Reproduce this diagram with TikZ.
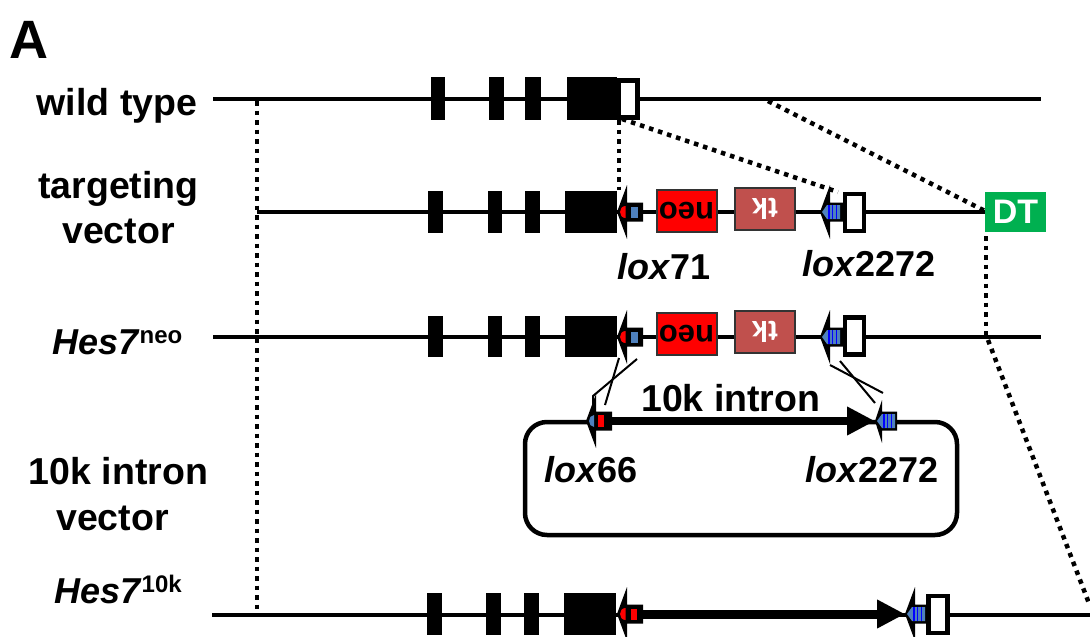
\documentclass[tikz,border=0pt]{standalone}
\usepackage{fontspec}
\setmainfont{Liberation Sans}
\usetikzlibrary{arrows.meta, positioning, calc}
\definecolor{loxblue}{RGB}{79,129,189}
\definecolor{tkred}{RGB}{192,80,77}
\definecolor{dtgreen}{RGB}{0,176,80}
\newcommand{\supmark}[1]{\raisebox{11pt}{\fontsize{24}{24}\selectfont #1}}
\begin{document}
\begin{tikzpicture}[x=1pt, y=-1pt, >=Stealth,
	gene/.style={line width=4.5pt},
	dots/.style={line width=4.5pt, dash pattern=on 4.5pt off 5pt},
	cross/.style={line width=2pt},
	tag/.style={font=\fontsize{37.5}{37.5}\selectfont\bfseries, anchor=base},
	loxtag/.style={font=\fontsize{36}{36}\selectfont\bfseries, anchor=base west, inner sep=0pt},
	exon/.style={draw=black, line width=4.5pt, fill=white, inner sep=0pt, minimum width=19pt},
	cassette/.style={draw=black!80, line width=2pt, inner sep=0pt, minimum width=60pt, rotate=180},
	loxsite/.pic={
		\fill[black] (0,0) -- (10,-27) -- (10,-9.5) -- (26,-9.5) -- (26,9.5) -- (10,9.5) -- (10,27) -- cycle;
		\coordinate (-tip) at (0,0);
		\coordinate (-tail) at (26,0);
	},
	loxshort/.pic={
		\fill[black] (0,0) -- (7,-21) -- (7,-9.5) -- (22,-9.5) -- (22,9.5) -- (7,9.5) -- (7,22) -- cycle;
		\coordinate (-tip) at (0,0);
	},
	redcore/.pic={
		\fill[red] (8.5,-6) -- (8.5,6) .. controls (5,6) and (3,3) .. (3,0) .. controls (3,-3) and (5,-6) .. (8.5,-6);
	},
	stripecore/.pic={
		\fill[loxblue] (2,0) -- (7,-7) -- (20,-7) -- (20,7) -- (7,7) -- cycle;
		\foreach \s in {9,12.7,16.5} {
			\fill[blue] (\s-0.7,-7) rectangle (\s+0.7,7);
		}
	}
	]

	% Frame of the reference
	\useasboundingbox (0,0) rectangle (1090,637);
	\node[font=\fontsize{54}{54}\selectfont\bfseries, anchor=base west, inner sep=0pt] (panel) at (9,58) {A};

	% Dotted guides
	\draw[dots] (257,101) -- (257,614);
	\draw[dots] (619,120) -- (619,190);
	\draw[dots] (622,119) -- (838,192);
	\draw[dots] (768,101) -- (985,211);
	\draw[dots] (986,236) -- (986,336);
	\draw[dots] (988,340) -- (1090,606);

	% 1. wild type
	\coordinate (wtL) at (213,99);
	\coordinate (wtR) at (1041,99);
	\draw[gene] (wtL) -- (wtR);
	\foreach \a/\b in {431/445,489/504,525/541,567/617} {
		\fill (\a,77) rectangle (\b,120);
	}
	\node[exon, minimum height=37pt] (wtEnd) at (628,99) {};
	\node[tag] (wtName) at (117,115) {wild type};

	% 2. targeting vector
	\coordinate (tvL) at (257,212);
	\node[draw=dtgreen, fill=dtgreen, inner sep=0pt, minimum width=60pt, minimum height=39pt, text=white, font=\fontsize{34}{34}\selectfont\bfseries] (tvDT) at (1015.5,212) {DT};
	\draw[gene] (tvL) -- (tvDT);
	\foreach \a/\b in {428/443,488/502,525/540,565/617} {
		\fill (\a,191) rectangle (\b,233);
	}
	\pic (tvLoxA) at (617,212) {loxsite};
	\pic at (617,212) {redcore};
	\fill[loxblue] (631,207) rectangle (638,218);
	\node[cassette, fill=red, minimum height=42pt, font=\fontsize{31}{31}\selectfont\bfseries] (tvNeo) at (686.5,210.5) {neo};
	\node[cassette, fill=tkred, minimum height=42pt, text=white, font=\fontsize{29}{29}\selectfont\bfseries] (tvTk) at (765,209) {tk};
	\pic (tvLoxB) at (820,212) {loxsite};
	\pic at (820,212) {stripecore};
	\node[exon, minimum height=37pt] (tvEnd) at (854.5,212.5) {};
	\node[tag] (tvNameA) at (118.5,198) {targeting};
	\node[tag] (tvNameB) at (118.5,243) {vector};
	\node[loxtag] (tvLabelA) at (617,279) {\textit{lox}71};
	\node[loxtag] (tvLabelB) at (802,276) {\textit{lox}2272};

	% 3. Hes7 neo
	\coordinate (neoL) at (213,337);
	\coordinate (neoR) at (1041,337);
	\draw[gene] (neoL) -- (neoR);
	\foreach \a/\b in {428/443,488/502,525/540,565/617} {
		\fill (\a,316) rectangle (\b,357);
	}
	\pic (neoLoxA) at (617,337) {loxsite};
	\pic at (617,337) {redcore};
	\fill[loxblue] (631,332) rectangle (638,343);
	\node[cassette, fill=red, minimum height=42pt, font=\fontsize{31}{31}\selectfont\bfseries] (neoNeo) at (686.5,334) {neo};
	\node[cassette, fill=tkred, minimum height=42pt, text=white, font=\fontsize{29}{29}\selectfont\bfseries] (neoTk) at (765,332) {tk};
	\pic (neoLoxB) at (820,337) {loxsite};
	\pic at (820,337) {stripecore};
	\node[exon, minimum height=37pt] (neoEnd) at (854.5,336) {};
	\node[loxtag] (neoName) at (52,354) {\textit{Hes7}\supmark{neo}};

	% 4. 10k intron vector
	\draw[line width=4.5pt, rounded corners=22pt] (525,422) rectangle (957,535);
	\pic (vecLoxA) at (586,421) {loxsite};
	\fill[loxblue] (594,415) -- (594,427) .. controls (591,427) and (589,424) .. (589,421) .. controls (589,418) and (591,415) .. (594,415);
	\fill[red] (598,415) rectangle (604,427);
	\pic (vecLoxB) at (875,421) {loxshort};
	\pic at (875,421) {stripecore};
	\draw[line width=8pt, -{Triangle[length=28pt,width=27pt]}] (vecLoxA-tail) -- (vecLoxB-tip);
	\node[tag, anchor=base west, inner sep=0pt] (vecTitle) at (641,411) {10k intron};
	\node[tag] (vecNameA) at (118.5,484) {10k intron};
	\node[tag] (vecNameB) at (112.5,530) {vector};
	\node[loxtag] (vecLabelA) at (544,482) {\textit{lox}66};
	\node[loxtag] (vecLabelB) at (805,482) {\textit{lox}2272};

	% Recombination crossings
	\draw[cross] (637,359) -- (593,396) -- (593,408);
	\draw[cross] (619,358) -- (605,405);
	\draw[cross] (830,365) -- (883,393);
	\draw[cross] (840,361) -- (875,403);

	% 5. Hes7 10k
	\coordinate (tenL) at (212,615);
	\coordinate (tenR) at (1090,615);
	\draw[gene] (tenL) -- (tenR);
	\foreach \a/\b in {427/442,486/501,524/539,564/616} {
		\fill (\a,593) rectangle (\b,635);
	}
	\pic (tenLoxA) at (617,614) {loxsite};
	\pic at (617,614) {redcore};
	\fill[red] (631,609) rectangle (637,620);
	\pic (tenLoxB) at (905,614) {loxsite};
	\pic at (905,614) {stripecore};
	\draw[line width=9pt, -{Triangle[length=28pt,width=27pt]}] (tenLoxA-tail) -- (tenLoxB-tip);
	\node[exon, minimum height=37pt] (tenEnd) at (938,614.5) {};
	\node[loxtag] (tenName) at (54,603) {\textit{Hes7}\supmark{10k}};

\end{tikzpicture}
\end{document}
